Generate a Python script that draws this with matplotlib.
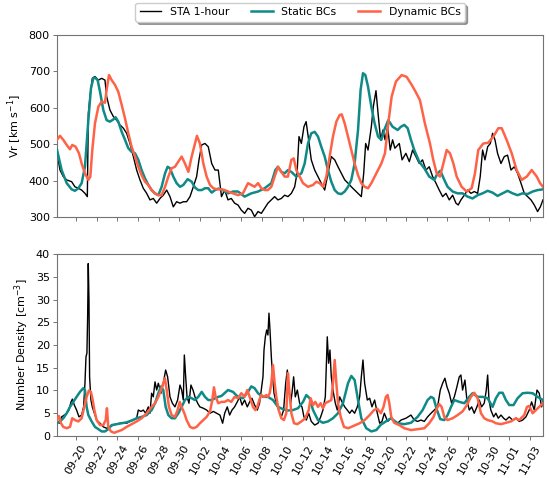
import matplotlib
matplotlib.use("Agg")
import matplotlib.pyplot as plt
import matplotlib.dates as mdates
import numpy as np
import pandas as pd

# Time axis: days since 2023-09-20 00:00
t0 = pd.Timestamp("2023-09-20")

# ---- STA 1-hour observations: radial speed ----
sta_vr_day = [-1.84, -1.78, -1.55, -1.23, -0.91, -0.42, -0.1, 0.23, 0.55, 0.87, 1.1, 1.2, 1.36, 1.58, 1.84,
              2.17, 2.49, 2.81, 2.97, 3.29, 3.62, 3.94, 4.26, 4.59, 4.91, 5.23, 5.56, 5.88, 6.2, 6.52,
              6.85, 7.17, 7.49, 7.82, 8.14, 8.46, 8.79, 9.11, 9.43, 9.75, 10.08, 10.4, 10.72, 11.05,
              11.37, 11.69, 11.92, 12.18, 12.5, 12.82, 13.15, 13.47, 13.79, 14.1, 14.41, 14.73, 15.05,
              15.37, 15.7, 16.02, 16.34, 16.67, 16.99, 17.31, 17.64, 17.96, 18.28, 18.6, 18.93, 19.25,
              19.57, 19.9, 20.22, 20.54, 20.87, 21.19, 21.42, 21.61, 21.84, 22.09, 22.3, 22.55, 22.8,
              23.13, 23.45, 23.77, 24.1, 24.42, 24.74, 25.07, 25.39, 25.71, 26.04, 26.36, 26.68, 27.0,
              27.33, 27.65, 27.88, 28.07, 28.3, 28.62, 28.81, 29.07, 29.3, 29.52, 29.75, 29.95, 30.2,
              30.45, 30.68, 30.9, 31.33, 31.6, 31.97, 32.3, 32.62, 32.94, 33.26, 33.58, 33.91, 34.23,
              34.56, 34.88, 35.2, 35.53, 35.85, 36.17, 36.5, 36.82, 37.04, 37.3, 37.63, 37.95, 38.27,
              38.6, 38.92, 39.17, 39.4, 39.63, 39.89, 40.15, 40.37, 40.6, 40.85, 41.18, 41.5, 41.82,
              42.15, 42.47, 42.79, 43.12, 43.44, 43.76, 44.09, 44.41, 44.73, 45.0, 45.25]
sta_vr = [476, 466, 429, 411, 402, 397, 383, 379, 374, 365, 356, 585, 631, 681, 686,
          676, 681, 676, 631, 594, 576, 566, 553, 544, 530, 502, 466, 429, 402, 379,
          365, 347, 351, 338, 351, 360, 374, 356, 328, 342, 338, 342, 342, 356,
          383, 411, 457, 498, 502, 493, 447, 429, 429, 356, 374, 347, 351,
          338, 333, 319, 310, 324, 319, 301, 315, 310, 324, 338, 347, 356,
          347, 351, 360, 356, 365, 383, 420, 521, 502, 548, 562, 511, 457,
          429, 411, 393, 374, 420, 466, 457, 438, 420, 402, 393, 383, 374,
          365, 356, 420, 502, 484, 548, 603, 647, 576, 512, 539, 512, 548,
          484, 512, 489, 502, 457, 475, 452, 484, 466, 447, 457, 429, 438,
          411, 393, 374, 356, 365, 347, 360, 338, 333, 347, 360, 374, 365,
          370, 365, 411, 484, 457, 493, 502, 530, 512, 475, 447, 466, 470,
          429, 438, 420, 393, 365, 356, 347, 333, 315, 328, 347]

# ---- Static BCs model: radial speed ----
static_vr_day = [-1.84, -1.39, -0.9, -0.42, -0.1, 0.23, 0.55, 0.87, 1.2, 1.45, 1.68, 1.84, 2.1, 2.33, 2.65,
                 2.97, 3.29, 3.62, 3.84, 4.1, 4.43, 4.75, 5.07, 5.39, 5.72, 6.04, 6.36, 6.69, 7.01, 7.33,
                 7.65, 7.98, 8.3, 8.63, 8.88, 9.11, 9.43, 9.75, 10.08, 10.4, 10.82, 11.21, 11.53, 11.85,
                 12.18, 12.5, 12.82, 13.15, 13.47, 13.79, 14.1, 14.73, 15.21, 15.7, 16.34, 16.99, 17.64,
                 18.28, 18.93, 19.32, 19.57, 19.9, 20.22, 20.54, 20.87, 21.35, 21.84, 22.16, 22.48, 22.8,
                 23.13, 23.45, 23.77, 24.1, 24.42, 24.74, 25.07, 25.39, 25.71, 26.04, 26.36, 26.68, 27.0,
                 27.33, 27.58, 27.81, 28.04, 28.3, 28.62, 28.94, 29.27, 29.59, 29.87, 30.26, 30.68, 31.17,
                 31.49, 31.81, 32.14, 32.46, 32.78, 33.26, 33.75, 34.23, 34.72, 35.04, 35.3, 35.69, 36.01,
                 36.5, 36.98, 37.46, 37.95, 38.43, 38.92, 39.4, 39.89, 40.37, 40.85, 41.34, 41.82, 42.31,
                 42.79, 43.28, 43.76, 44.25, 44.73, 45.25]
static_vr = [485, 429, 393, 376, 372, 379, 393, 438, 566, 653, 681, 683, 676, 644, 594,
             566, 562, 568, 574, 562, 534, 512, 489, 479, 475, 457, 429, 406, 388, 374,
             365, 360, 383, 420, 438, 434, 411, 393, 383, 388, 404, 397, 381, 374,
             374, 379, 379, 367, 374, 378, 376, 365, 370, 370, 356, 365, 370,
             379, 393, 429, 438, 424, 420, 429, 424, 411, 420, 447, 502, 530,
             534, 521, 493, 466, 429, 397, 374, 365, 363, 370, 383, 402, 447,
             539, 649, 695, 690, 658, 603, 557, 521, 512, 539, 566, 548, 539,
             548, 553, 544, 512, 484, 452, 434, 411, 402, 420, 427, 402, 383,
             370, 365, 365, 356, 351, 360, 365, 372, 367, 358, 365, 372, 365,
             360, 365, 363, 370, 374, 376]

# ---- Dynamic BCs model: radial speed ----
dynamic_vr_day = [-1.84, -1.55, -1.23, -0.9, -0.58, -0.36, -0.03, 0.29, 0.55, 0.87, 1.2, 1.39, 1.58, 1.84,
                  2.17, 2.49, 2.81, 2.97, 3.2, 3.46, 3.78, 4.1, 4.43, 4.75, 5.07, 5.39, 5.72, 6.04, 6.36,
                  6.69, 7.01, 7.33, 7.65, 7.98, 8.3, 8.63, 8.95, 9.27, 9.59, 9.92, 10.24, 10.56, 10.89,
                  11.21, 11.53, 11.72, 12.01, 12.34, 12.66, 12.99, 13.31, 13.63, 14.1, 14.41, 14.73, 15.21,
                  15.7, 16.18, 16.67, 16.99, 17.31, 17.64, 17.96, 18.28, 18.6, 18.93, 19.25, 19.57, 19.9,
                  20.22, 20.54, 20.87, 21.1, 21.35, 21.67, 22.0, 22.48, 22.97, 23.29, 23.61, 23.94, 24.26,
                  24.58, 24.9, 25.23, 25.55, 25.75, 26.04, 26.36, 26.68, 27.0, 27.33, 27.65, 27.97, 28.3,
                  28.62, 28.94, 29.27, 29.59, 29.94, 30.26, 30.59, 31.0, 31.56, 32.04, 32.53, 32.91, 33.33,
                  33.81, 34.3, 34.62, 34.95, 35.27, 35.6, 35.92, 36.24, 36.57, 36.89, 37.37, 37.86, 38.34,
                  38.66, 38.98, 39.47, 39.95, 40.44, 40.93, 41.25, 41.73, 42.22, 42.7, 43.19, 43.68, 44.16,
                  44.65, 44.97, 45.25]
dynamic_vr = [512, 523, 512, 498, 486, 498, 493, 475, 447, 420, 402, 411, 484, 557,
              603, 617, 614, 649, 690, 676, 663, 644, 608, 571, 530, 493, 466, 438, 415,
              397, 388, 374, 365, 360, 360, 383, 411, 434, 438, 452, 466, 447, 424,
              466, 502, 523, 502, 447, 411, 388, 379, 376, 376, 374, 370, 365,
              360, 365, 393, 388, 383, 393, 379, 374, 374, 383, 411, 438, 424,
              411, 411, 457, 461, 429, 411, 393, 383, 388, 397, 393, 383, 411,
              466, 521, 562, 580, 582, 557, 521, 484, 447, 415, 393, 383, 379,
              393, 411, 429, 447, 475, 557, 631, 672, 690, 685, 663, 644, 621,
              557, 502, 457, 420, 411, 447, 484, 475, 447, 411, 383, 370, 379,
              420, 484, 502, 504, 521, 544, 544, 512, 475, 429, 402, 411, 429,
              411, 393, 383]

# ---- STA 1-hour observations: number density ----
sta_n_day = [-1.84, -1.6, -1.39, -1.13, -0.9, -0.68, -0.48, -0.35, -0.16, 0.06, 0.29, 0.55, 0.74, 0.87, 0.97,
             1.06, 1.13, 1.19, 1.26, 1.32, 1.45, 1.58, 1.78, 2.0, 2.33, 2.65, 2.97, 3.29, 3.62, 3.94,
             4.26, 4.59, 4.91, 5.23, 5.56, 5.88, 6.04, 6.3, 6.52, 6.75, 7.01, 7.17, 7.33, 7.49, 7.66,
             7.82, 7.98, 8.24, 8.46, 8.69, 8.88, 9.11, 9.34, 9.59, 9.85, 10.08, 10.24, 10.4, 10.5,
             10.63, 10.76, 10.95, 11.14, 11.34, 11.53, 11.79, 12.0, 12.34, 12.66, 12.99, 13.31, 13.63,
             13.95, 14.21, 14.41, 14.66, 14.89, 15.12, 15.37, 15.63, 15.86, 16.09, 16.34, 16.6, 16.83,
             17.05, 17.31, 17.57, 17.79, 17.96, 18.12, 18.22, 18.35, 18.48, 18.6, 18.7, 18.8, 18.93,
             19.06, 19.19, 19.41, 19.64, 19.9, 20.12, 20.32, 20.48, 20.64, 20.8, 20.93, 21.09, 21.25,
             21.45, 21.67, 21.9, 22.09, 22.32, 22.55, 22.8, 23.13, 23.45, 23.71, 23.93, 24.16, 24.35,
             24.48, 24.61, 24.74, 24.9, 25.13, 25.32, 25.55, 25.78, 26.04, 26.29, 26.52, 26.74, 27.0,
             27.26, 27.49, 27.65, 27.81, 27.97, 28.23, 28.46, 28.68, 28.94, 29.2, 29.43, 29.65, 29.88,
             30.2, 30.52, 30.84, 31.17, 31.49, 31.97, 32.46, 32.78, 33.1, 33.43, 33.75, 34.07, 34.4,
             34.72, 35.04, 35.3, 35.53, 35.75, 35.95, 36.17, 36.4, 36.66, 36.91, 37.14, 37.3, 37.46,
             37.69, 37.88, 38.11, 38.34, 38.59, 38.85, 39.08, 39.3, 39.56, 39.76, 39.89, 40.02, 40.2,
             40.47, 40.69, 40.92, 41.18, 41.44, 41.66, 41.98, 42.31, 42.63, 42.95, 43.28, 43.6, 43.92,
             44.15, 44.41, 44.67, 44.89, 45.12, 45.25]
sta_n = [3.5, 2.8, 4.2, 4.6, 5.0, 5.7, 7.5, 8.1, 6.8, 5.7, 4.2, 4.6, 6.4, 11.6, 17.4,
         18.2, 26.2, 37.9, 29.9, 13.0, 7.9, 6.4, 5.0, 3.5, 2.8, 2.0, 1.7, 2.0, 2.4, 2.6,
         2.8, 2.9, 2.8, 3.2, 3.5, 3.9, 5.7, 5.4, 5.7, 5.0, 6.4, 5.0, 9.4, 8.6, 11.9,
         10.1, 11.6, 9.4, 11.6, 14.5, 13.0, 8.6, 7.2, 6.4, 7.9, 11.2, 10.1, 7.9, 17.8,
         13.0, 8.6, 7.2, 11.2, 10.1, 8.6, 7.2, 6.4, 6.1, 5.7, 5.0, 5.4, 5.0,
         4.6, 2.8, 5.0, 6.4, 4.6, 5.7, 6.4, 7.5, 8.6, 6.8, 7.9, 6.4, 7.5,
         8.3, 6.8, 5.7, 7.2, 10.1, 13.0, 18.9, 21.8, 23.3, 22.2, 27.0, 23.3, 17.4,
         13.0, 9.4, 7.2, 5.7, 4.2, 5.7, 11.6, 14.5, 10.1, 7.2, 9.4, 13.0, 8.6,
         10.1, 7.2, 6.4, 4.2, 3.5, 5.0, 3.2, 2.4, 2.8, 4.2, 5.7, 8.6, 21.8,
         16.0, 18.9, 13.0, 10.1, 7.2, 5.7, 8.6, 7.5, 6.4, 5.7, 5.0, 5.7, 5.0,
         6.4, 8.6, 13.0, 16.7, 11.6, 7.9, 8.3, 6.4, 7.9, 5.0, 2.8, 3.2, 5.0,
         3.2, 3.9, 3.2, 2.8, 3.5, 3.9, 4.6, 3.5, 3.2, 3.5, 3.2, 4.2, 5.0,
         5.7, 6.4, 10.1, 11.6, 12.7, 10.8, 9.4, 7.2, 8.6, 10.8, 13.0, 13.4, 10.1,
         12.3, 7.9, 5.7, 6.4, 5.0, 6.4, 7.9, 6.4, 7.2, 10.1, 13.4, 7.9, 5.7,
         4.2, 5.0, 3.9, 4.6, 3.9, 3.5, 4.2, 3.5, 3.9, 3.2, 3.5, 4.2, 5.7,
         7.5, 5.7, 10.1, 9.4, 6.4, 7.5]

# ---- Static BCs model: number density ----
static_n_day = [-1.84, -1.55, -1.23, -0.9, -0.58, -0.26, 0.06, 0.39, 0.71, 0.87, 1.03, 1.2, 1.52, 1.84, 2.17,
                2.49, 2.81, 3.13, 3.46, 3.94, 4.43, 4.91, 5.39, 5.88, 6.36, 6.85, 7.33, 7.66, 7.98, 8.24,
                8.46, 8.69, 8.95, 9.27, 9.59, 9.92, 10.24, 10.56, 10.89, 11.21, 11.53, 11.85, 12.18, 12.5,
                12.82, 13.15, 13.47, 13.79, 14.1, 14.73, 15.21, 15.7, 16.18, 16.67, 16.99, 17.31, 17.64,
                18.12, 18.6, 19.09, 19.57, 20.06, 20.54, 21.03, 21.51, 22.0, 22.32, 22.64, 22.97, 23.45,
                23.93, 24.42, 24.9, 25.39, 25.87, 26.36, 26.68, 27.0, 27.33, 27.65, 28.13, 28.62, 29.1,
                29.55, 30.03, 30.52, 31.17, 31.81, 32.46, 33.1, 33.59, 34.07, 34.4, 34.65, 34.98, 35.3,
                35.69, 36.01, 36.34, 36.66, 37.14, 37.63, 38.11, 38.43, 38.92, 39.4, 39.89, 40.37, 40.69,
                41.02, 41.34, 41.66, 41.98, 42.4, 42.79, 43.28, 43.76, 44.25, 44.73, 45.25]
static_n = [2.8, 3.2, 3.9, 5.0, 6.4, 7.5, 8.6, 9.7, 10.5, 10.1, 6.4, 4.6, 3.2, 2.0, 1.5,
            1.0, 1.0, 1.5, 2.4, 2.6, 2.8, 3.0, 3.4, 3.9, 4.2, 4.6, 5.7, 7.2, 9.4, 10.9,
            10.1, 6.4, 4.6, 3.9, 3.9, 5.0, 6.4, 7.9, 8.6, 8.3, 7.9, 8.6, 9.7, 8.6,
            7.9, 7.9, 8.3, 8.6, 8.8, 10.1, 9.7, 8.6, 8.3, 9.7, 10.9, 10.5, 9.4,
            8.6, 8.6, 7.9, 6.4, 5.9, 5.6, 5.7, 6.1, 7.5, 9.0, 8.3, 5.7, 3.5,
            2.9, 3.2, 3.9, 5.0, 7.2, 11.6, 13.2, 12.3, 7.9, 3.9, 1.7, 1.0, 1.3,
            2.5, 3.2, 3.9, 2.8, 2.6, 2.9, 4.2, 5.7, 7.9, 8.6, 8.3, 5.7, 3.7,
            3.5, 4.6, 6.4, 7.9, 7.5, 7.2, 8.6, 9.4, 8.6, 8.6, 8.3, 6.4, 8.3,
            9.5, 9.5, 7.9, 6.8, 6.8, 8.3, 9.4, 9.5, 9.4, 8.6, 7.9]

# ---- Dynamic BCs model: number density ----
dynamic_n_day = [-1.84, -1.65, -1.45, -1.23, -0.9, -0.58, -0.36, -0.1, 0.23, 0.55, 0.81, 1.03, 1.26, 1.45,
                 1.62, 1.78, 2.0, 2.33, 2.65, 2.88, 3.0, 3.13, 3.39, 3.71, 4.04, 4.43, 4.91, 5.39, 5.88,
                 6.36, 6.85, 7.33, 7.66, 7.98, 8.24, 8.46, 8.62, 8.79, 9.01, 9.27, 9.59, 9.85, 10.05,
                 10.24, 10.5, 10.72, 11.05, 11.37, 11.69, 12.01, 12.34, 12.66, 12.99, 13.21, 13.37, 13.53,
                 13.79, 14.1, 14.41, 14.73, 15.05, 15.37, 15.7, 16.02, 16.34, 16.6, 16.83, 17.15, 17.38,
                 17.57, 17.76, 17.96, 18.22, 18.44, 18.6, 18.77, 18.93, 19.09, 19.25, 19.41, 19.64, 19.9,
                 20.15, 20.38, 20.54, 20.67, 20.87, 21.13, 21.45, 21.84, 22.22, 22.55, 22.74, 22.97, 23.19,
                 23.45, 23.71, 23.93, 24.16, 24.42, 24.74, 24.9, 25.07, 25.23, 25.39, 25.65, 25.97, 26.36,
                 26.68, 27.07, 27.49, 27.97, 28.46, 28.88, 29.2, 29.55, 29.8, 30.03, 30.2, 30.36, 30.55,
                 30.84, 31.33, 31.81, 32.46, 33.1, 33.75, 34.23, 34.65, 34.98, 35.2, 35.43, 35.69, 36.01,
                 36.5, 36.98, 37.46, 37.88, 38.27, 38.59, 38.92, 39.24, 39.56, 39.89, 40.37, 40.69, 41.18,
                 41.66, 42.15, 42.63, 42.95, 43.44, 43.7, 43.92, 44.25, 44.57, 44.89, 45.25]
dynamic_n = [3.5, 4.4, 2.8, 2.0, 1.7, 2.0, 3.9, 3.5, 3.2, 3.9, 6.4, 8.6, 10.0, 9.7,
             7.9, 5.7, 3.5, 2.4, 2.4, 3.5, 6.1, 2.0, 1.0, 0.7, 1.0, 1.3, 2.0, 2.6, 3.2,
             3.9, 5.0, 6.4, 7.2, 8.6, 10.1, 11.6, 12.7, 10.1, 6.4, 4.6, 4.2, 5.7, 7.5,
             6.4, 5.0, 3.5, 2.0, 1.7, 2.0, 2.8, 3.5, 4.2, 5.4, 7.9, 10.7, 8.6,
             7.2, 7.5, 7.5, 7.9, 7.5, 8.6, 8.3, 9.4, 8.6, 10.1, 8.6, 6.4, 5.7,
             6.4, 7.9, 9.0, 8.6, 9.0, 8.6, 9.4, 11.6, 15.6, 11.6, 8.6, 5.7, 3.9,
             3.5, 5.0, 13.8, 10.1, 5.0, 2.8, 2.6, 3.2, 3.9, 5.7, 8.3, 6.8, 7.5,
             6.4, 7.2, 6.1, 7.2, 7.5, 7.9, 11.6, 16.7, 11.6, 7.2, 4.2, 2.0, 1.7,
             2.0, 2.4, 2.8, 3.5, 4.6, 5.7, 6.0, 5.0, 6.4, 8.6, 9.0, 7.2, 4.2,
             2.9, 2.4, 1.7, 1.3, 1.5, 1.7, 2.8, 4.2, 6.1, 7.0, 6.4, 4.2, 3.5,
             3.9, 4.6, 5.4, 6.8, 8.6, 9.5, 8.3, 5.0, 3.9, 3.5, 3.2, 2.8, 2.6,
             2.9, 3.2, 3.9, 3.5, 4.6, 6.4, 6.6, 5.0, 5.7, 6.4, 7.2]


def to_time(days):
    return t0 + pd.to_timedelta(np.asarray(days, dtype=float), unit="D")


# Compact styling for a small figure
plt.rcParams.update({
    "font.size": 8,
    "axes.linewidth": 0.8,
    "axes.edgecolor": "0.45",
    "xtick.color": "0.45",
    "ytick.color": "0.45",
    "xtick.labelcolor": "black",
    "ytick.labelcolor": "black",
    "xtick.major.size": 2.6,
    "ytick.major.size": 2.6,
    "xtick.major.width": 0.7,
    "ytick.major.width": 0.7,
    "xtick.major.pad": 2.6,
    "ytick.major.pad": 2.6,
    "axes.labelpad": 3.0,
    "legend.fontsize": 7.8,
})

obs_color = "black"
static_color = "#0f8a87"
dynamic_color = "tomato"

fig = plt.figure(figsize=(5.49, 4.78), dpi=100)
ax1 = fig.add_axes([0.1038, 0.546, 0.8852, 0.3808])
ax2 = fig.add_axes([0.1038, 0.0879, 0.8852, 0.3807], sharex=ax1)

ax1.plot(to_time(sta_vr_day), sta_vr, color=obs_color, lw=1.0, label="STA 1-hour", zorder=2)
ax1.plot(to_time(static_vr_day), static_vr, color=static_color, lw=1.8, label="Static BCs", zorder=3)
ax1.plot(to_time(dynamic_vr_day), dynamic_vr, color=dynamic_color, lw=1.8, label="Dynamic BCs", zorder=4)

ax2.plot(to_time(sta_n_day), sta_n, color=obs_color, lw=1.0, zorder=2)
ax2.plot(to_time(static_n_day), static_n, color=static_color, lw=1.8, zorder=3)
ax2.plot(to_time(dynamic_n_day), dynamic_n, color=dynamic_color, lw=1.8, zorder=4)

ax1.set_ylim(300, 800)
ax1.set_yticks([300, 400, 500, 600, 700, 800])
ax1.set_ylabel(r"Vr [km s$^{-1}$]")
ax2.set_ylim(0, 40)
ax2.set_yticks(range(0, 41, 5))
ax2.set_ylabel(r"Number Density [cm$^{-3}$]")

ax1.set_xlim(to_time([sta_vr_day[0]])[0], to_time([sta_vr_day[-1]])[0])
ax2.set_xticks(to_time(np.arange(0, 45, 2)))
ax2.xaxis.set_major_formatter(mdates.DateFormatter("%m-%d"))
plt.setp(ax1.get_xticklabels(), visible=False)
plt.setp(ax2.get_xticklabels(), rotation=60, ha="center")

fig.legend(loc="upper center", bbox_to_anchor=(0.5465, 0.994), borderaxespad=0.0,
           ncol=3, shadow=True)

fig.savefig("out.png", dpi=100)
